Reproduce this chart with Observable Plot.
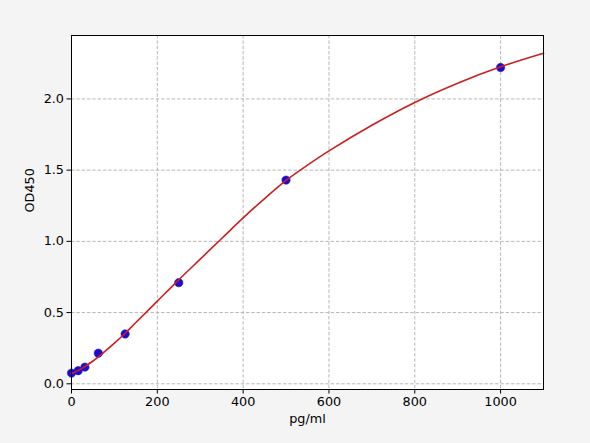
<!DOCTYPE html>
<html>
<head>
<meta charset="utf-8">
<script src="https://cdn.jsdelivr.net/npm/d3@7"></script>
<script src="https://cdn.jsdelivr.net/npm/@observablehq/plot@0.6"></script>
<style>
  html, body { margin: 0; padding: 0; background: #f4f4f4; }
  #chart svg { display: block; }
</style>
</head>
<body>
<div id="chart"></div>
<script>
// Standard points (concentration pg/ml, OD450)
const conc = [0, 15.6, 31.25, 62.5, 125, 250, 500, 1000];
const od   = [0.075, 0.092, 0.117, 0.215, 0.35, 0.71, 1.43, 2.22];

// Fitted curve
const curveX = [0, 25, 50, 75, 100, 125, 150, 200, 250, 300, 350, 400, 450, 500, 550, 600, 700, 800, 900, 1000, 1100];
const curveY = [0.07, 0.11, 0.16, 0.22, 0.285, 0.355, 0.43, 0.58, 0.73, 0.875, 1.02, 1.165, 1.30, 1.428, 1.535, 1.635, 1.815, 1.975, 2.11, 2.225, 2.32];

const xTicks = [0, 200, 400, 600, 800, 1000];
const yTicks = [0.0, 0.5, 1.0, 1.5, 2.0];

const points = conc.map((x, i) => ({x, y: od[i]}));
const curve = curveX.map((x, i) => ({x, y: curveY[i]}));

const font = "DejaVu Sans, sans-serif";

const chart = Plot.plot({
  width: 590,
  height: 443,
  marginLeft: 71,
  marginRight: 47,
  marginTop: 35,
  marginBottom: 54,
  style: { background: "#f4f4f4", fontFamily: font, fontSize: "12.8px", color: "black" },
  x: { domain: [0, 1100] },
  y: { domain: [-0.04, 2.445] },
  marks: [
    Plot.frame({ fill: "white", stroke: null }),
    Plot.gridX(xTicks, { stroke: "#b0b0b0", strokeOpacity: 1, strokeWidth: 0.9, strokeDasharray: "3.5,1.8" }),
    Plot.gridY(yTicks, { stroke: "#b0b0b0", strokeOpacity: 1, strokeWidth: 0.9, strokeDasharray: "3.5,1.8" }),
    Plot.axisX(xTicks, { tickSize: 4.5, tickPadding: 3, label: null, tickFormat: d3.format("d"), fontSize: 12.8 }),
    Plot.axisY(yTicks, { tickSize: 4.5, tickPadding: 3, label: null, tickFormat: d3.format(".1f"), fontSize: 12.8 }),
    Plot.dot(points, { x: "x", y: "y", r: 4.2, fill: "#1c0ccc", stroke: "#1c0ccc", strokeWidth: 0.5 }),
    Plot.line(curve, { x: "x", y: "y", stroke: "#cc1f1f", strokeWidth: 1.6, curve: "catmull-rom" }),
    Plot.frame({ stroke: "black", strokeWidth: 1 }),
    Plot.text(["pg/ml"], { frameAnchor: "bottom", dy: 33, fontSize: 12.8, fill: "black" }),
    Plot.text(["OD450"], { frameAnchor: "left", dx: -42, rotate: -90, fontSize: 12.8, fill: "black" })
  ]
});

document.getElementById("chart").appendChild(chart);
</script>
</body>
</html>
